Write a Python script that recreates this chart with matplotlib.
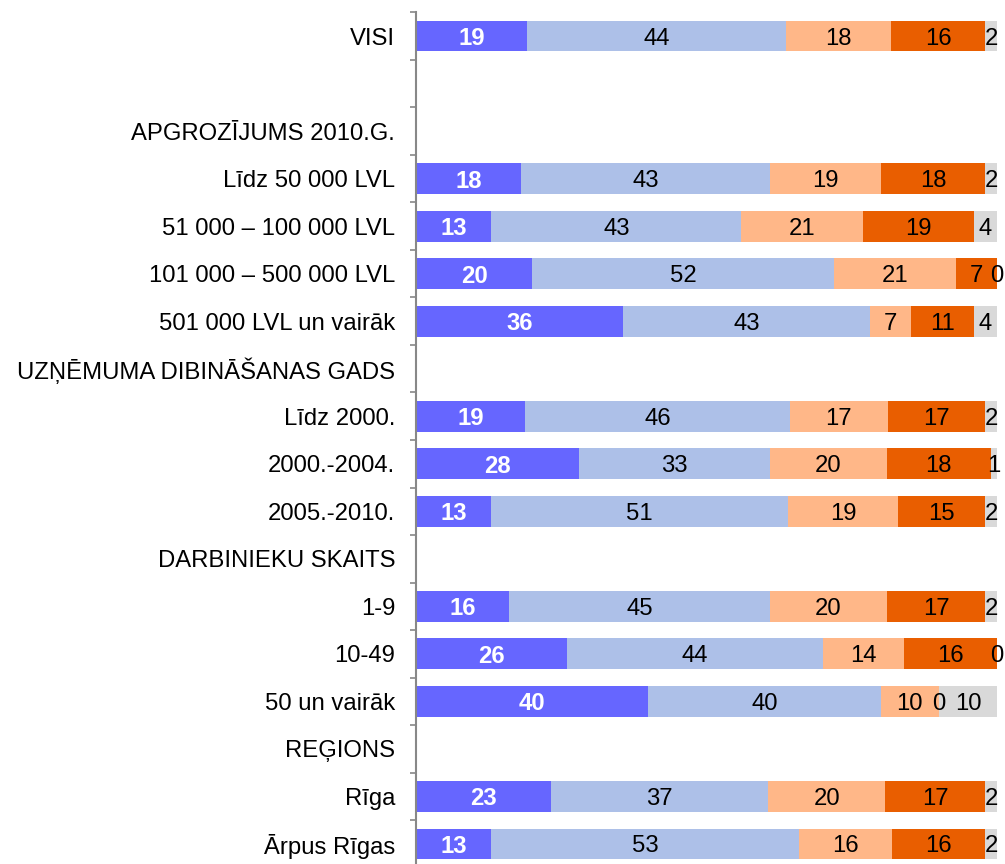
import numpy as np
import matplotlib
matplotlib.use("Agg")
import matplotlib.pyplot as plt

plt.rcParams["font.family"] = ["Liberation Sans", "DejaVu Sans"]

NA = np.nan
CATEGORIES = [
    "VISI", "", "APGROZĪJUMS 2010.G.", "Līdz 50 000 LVL", "51 000 – 100 000 LVL",
    "101 000 – 500 000 LVL", "501 000 LVL un vairāk", "UZŅĒMUMA DIBINĀŠANAS GADS",
    "Līdz 2000.", "2000.-2004.", "2005.-2010.", "DARBINIEKU SKAITS",
    "1-9", "10-49", "50 un vairāk", "REĢIONS", "Rīga", "Ārpus Rīgas",
]
S1 = [19, NA, NA, 18, 13, 20, 36, NA, 19, 28, 13, NA, 16, 26, 40, NA, 23, 13]
S2 = [44, NA, NA, 43, 43, 52, 43, NA, 46, 33, 51, NA, 45, 44, 40, NA, 37, 53]
S3 = [18, NA, NA, 19, 21, 21, 7, NA, 17, 20, 19, NA, 20, 14, 10, NA, 20, 16]
S4 = [16, NA, NA, 18, 19, 7, 11, NA, 17, 18, 15, NA, 17, 16, 0, NA, 17, 16]
S5 = [2, NA, NA, 2, 4, 0, 4, NA, 2, 1, 2, NA, 2, 0, 10, NA, 2, 2]

COLORS = ["#6666FF", "#ADC0E8", "#FFB788", "#E95E00", "#D9D9D9"]
FS = 17.2

series = np.array([S1, S2, S3, S4, S5], dtype=float)
totals = np.nansum(series, axis=0)
totals[totals == 0] = 1
shares = series / totals * 100

fig = plt.figure(figsize=(10.05, 8.64), dpi=100, facecolor="white")
ax = fig.add_axes([0.4139, -0.0043, 0.5781, 0.9901])

y = np.arange(len(CATEGORIES))
left = np.zeros(len(CATEGORIES))
for k in range(5):
    w = np.nan_to_num(shares[k])
    ax.barh(y, w, left=left, height=0.65, color=COLORS[k], edgecolor="none")
    for i in range(len(CATEGORIES)):
        if np.isnan(series[k, i]):
            continue
        cx = left[i] + w[i] / 2
        if k == 0:
            ax.text(cx, i, f"{int(series[k, i])}", ha="center", va="center_baseline",
                    color="white", fontsize=FS, fontweight="bold")
        else:
            ax.text(cx, i, f"{int(series[k, i])}", ha="center", va="center_baseline",
                    color="black", fontsize=FS)
    left = left + w

ax.set_xlim(0, 100)
ax.set_ylim(len(CATEGORIES) - 0.5, -0.5)
ax.set_yticks(y)
ax.set_yticklabels(CATEGORIES, fontsize=FS)
ax.set_yticks(np.arange(-0.5, len(CATEGORIES), 1), minor=True)
ax.tick_params(axis="y", which="major", length=0, pad=15)
ax.tick_params(axis="y", which="minor", length=4, color="#888888", width=1.2)
ax.set_xticks([])
for s in ["top", "right", "bottom"]:
    ax.spines[s].set_visible(False)
ax.spines["left"].set_color("#888888")
ax.spines["left"].set_linewidth(1.5)

fig.savefig("out.png", dpi=100, facecolor="white")
